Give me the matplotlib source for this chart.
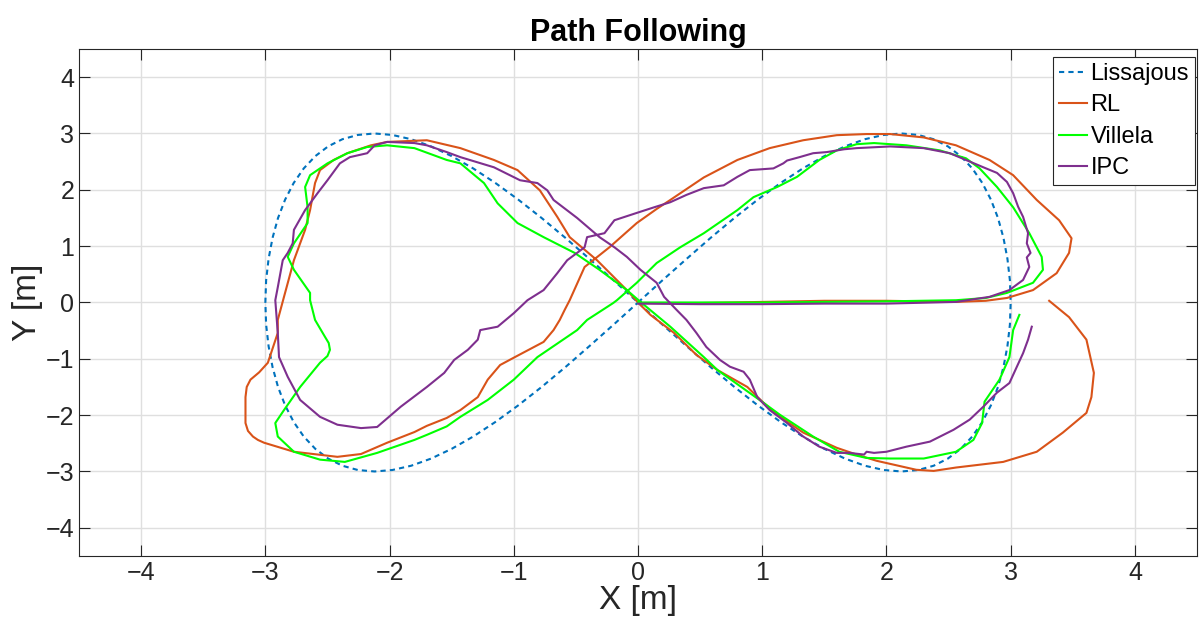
import matplotlib
matplotlib.use("Agg")
import matplotlib.pyplot as plt

plt.rcParams['font.family'] = ['Liberation Sans', 'DejaVu Sans']

title = "Path Following"
xlabel = "X [m]"
ylabel = "Y [m]"
labels = ["Lissajous", "RL", "Villela", "IPC"]
xticks = [-4, -3, -2, -1, 0, 1, 2, 3, 4]
yticks = [-4, -3, -2, -1, 0, 1, 2, 3, 4]

# Reference Lissajous path
liss_x = [0.000, 0.196, 0.392, 0.585, 0.776, 0.964, 1.148, 1.327, 1.500, 1.667, 1.826, 1.978,
          2.121, 2.256, 2.380, 2.494, 2.598, 2.691, 2.772, 2.841, 2.898, 2.942, 2.974, 2.994,
          3.000, 2.994, 2.974, 2.942, 2.898, 2.841, 2.772, 2.691, 2.598, 2.494, 2.380, 2.256,
          2.121, 1.978, 1.826, 1.667, 1.500, 1.327, 1.148, 0.964, 0.776, 0.585, 0.392, 0.196,
          0.000, -0.196, -0.392, -0.585, -0.776, -0.964, -1.148, -1.327, -1.500, -1.667, -1.826, -1.978,
          -2.121, -2.256, -2.380, -2.494, -2.598, -2.691, -2.772, -2.841, -2.898, -2.942, -2.974, -2.994,
          -3.000, -2.994, -2.974, -2.942, -2.898, -2.841, -2.772, -2.691, -2.598, -2.494, -2.380, -2.256,
          -2.121, -1.978, -1.826, -1.667, -1.500, -1.327, -1.148, -0.964, -0.776, -0.585, -0.392, -0.196,
          0.000]
liss_y = [0.000, 0.392, 0.776, 1.148, 1.500, 1.826, 2.121, 2.380, 2.598, 2.772, 2.898, 2.974,
          3.000, 2.974, 2.898, 2.772, 2.598, 2.380, 2.121, 1.826, 1.500, 1.148, 0.776, 0.392,
          0.000, -0.392, -0.776, -1.148, -1.500, -1.826, -2.121, -2.380, -2.598, -2.772, -2.898, -2.974,
          -3.000, -2.974, -2.898, -2.772, -2.598, -2.380, -2.121, -1.826, -1.500, -1.148, -0.776, -0.392,
          0.000, 0.392, 0.776, 1.148, 1.500, 1.826, 2.121, 2.380, 2.598, 2.772, 2.898, 2.974,
          3.000, 2.974, 2.898, 2.772, 2.598, 2.380, 2.121, 1.826, 1.500, 1.148, 0.776, 0.392,
          0.000, -0.392, -0.776, -1.148, -1.500, -1.826, -2.121, -2.380, -2.598, -2.772, -2.898, -2.974,
          -3.000, -2.974, -2.898, -2.772, -2.598, -2.380, -2.121, -1.826, -1.500, -1.148, -0.776, -0.392,
          0.000]

# RL trajectory
rl_x = [0.02, 0.50, 1.00, 1.50, 2.00, 2.56, 2.80, 2.97, 3.18, 3.37, 3.47, 3.49, 3.39, 3.21, 3.02, 2.83,
        2.56, 2.30, 2.03, 1.84, 1.60, 1.33, 1.06, 0.80, 0.53, 0.26, 0.15, -0.01, -0.23, -0.43,
        -0.55, -0.59, -0.63, -0.68, -0.76, -1.00, -1.11, -1.21, -1.29, -1.43, -1.54, -1.70, -1.80,
        -2.02, -2.23, -2.42, -2.77, -3.01, -3.06, -3.10, -3.14, -3.16, -3.16, -3.15, -3.12, -3.05, -2.98,
        -2.90, -2.90, -2.85, -2.77, -2.68, -2.64, -2.60, -2.56, -2.45, -2.34, -2.15, -2.02, -1.70,
        -1.43, -1.16, -0.97, -0.79, -0.65, -0.55, -0.33, -0.09, 0.00, 0.10, 0.29, 0.47, 0.64, 0.88,
        1.01, 1.12, 1.33, 1.60, 1.76, 1.92, 2.24, 2.38, 2.56, 2.94, 3.21, 3.42, 3.61, 3.65, 3.67,
        3.61, 3.47, 3.31]
rl_y = [-0.01, -0.01, 0.01, 0.03, 0.03, 0.01, 0.03, 0.08, 0.22, 0.52, 0.88, 1.14, 1.46, 1.82, 2.26, 2.53,
        2.79, 2.93, 2.99, 2.99, 2.97, 2.88, 2.74, 2.53, 2.22, 1.82, 1.66, 1.41, 0.98, 0.63,
        0.04, -0.13, -0.31, -0.49, -0.70, -0.98, -1.11, -1.37, -1.68, -1.91, -2.05, -2.19, -2.30,
        -2.49, -2.69, -2.74, -2.65, -2.49, -2.44, -2.38, -2.28, -2.14, -1.68, -1.50, -1.37, -1.24, -1.07,
        -0.54, -0.31, 0.10, 0.75, 1.29, 1.64, 2.12, 2.35, 2.53, 2.65, 2.79, 2.85, 2.88,
        2.74, 2.53, 2.35, 1.99, 1.52, 1.16, 0.75, 0.22, 0.00, -0.22, -0.54, -0.93, -1.20, -1.50,
        -1.78, -1.99, -2.31, -2.58, -2.70, -2.81, -2.97, -2.99, -2.93, -2.83, -2.65, -2.31, -1.96, -1.68, -1.25,
        -0.66, -0.26, 0.03]

# Villela trajectory
vil_x = [0.00, 0.50, 1.00, 1.50, 2.00, 2.56, 2.80, 2.97, 3.18, 3.26, 3.25, 3.15, 3.02, 2.89, 2.75, 2.64,
         2.43, 2.16, 1.90, 1.76, 1.60, 1.46, 1.28, 1.12, 0.93, 0.80, 0.53, 0.34, 0.15, -0.01,
         -0.17, -0.20, -0.41, -0.49, -0.81, -1.00, -1.21, -1.43, -1.54, -1.70, -1.80, -2.10, -2.36,
         -2.56, -2.77, -2.90, -2.92, -2.85, -2.72, -2.56, -2.50, -2.48, -2.49, -2.52, -2.60, -2.64,
         -2.64, -2.77, -2.82, -2.77, -2.66, -2.66, -2.68, -2.64, -2.50, -2.34, -2.18, -2.02, -1.80,
         -1.54, -1.43, -1.24, -1.13, -0.97, -0.76, -0.51, -0.31, -0.09, 0.02, 0.26, 0.53, 0.64, 1.01,
         1.14, 1.41, 1.62, 1.84, 2.03, 2.30, 2.56, 2.70, 2.77, 2.79, 2.91, 2.99, 3.02, 3.07]
vil_y = [0.00, 0.00, 0.00, 0.01, 0.02, 0.04, 0.08, 0.17, 0.35, 0.58, 0.81, 1.23, 1.69, 2.05, 2.38, 2.56,
         2.70, 2.79, 2.83, 2.81, 2.70, 2.53, 2.23, 2.05, 1.87, 1.64, 1.23, 0.98, 0.70, 0.35,
         0.04, -0.01, -0.31, -0.49, -0.97, -1.37, -1.73, -2.03, -2.20, -2.35, -2.44, -2.67, -2.83,
         -2.79, -2.65, -2.38, -2.14, -1.91, -1.50, -1.07, -0.95, -0.84, -0.72, -0.61, -0.31, 0.04,
         0.17, 0.58, 0.81, 1.05, 1.41, 1.69, 2.05, 2.26, 2.47, 2.65, 2.76, 2.79, 2.74,
         2.53, 2.47, 2.12, 1.76, 1.41, 1.16, 0.88, 0.58, 0.22, 0.01, -0.43, -0.97, -1.20, -1.78,
         -1.99, -2.38, -2.65, -2.76, -2.77, -2.77, -2.65, -2.44, -2.14, -1.76, -1.37, -0.97, -0.49, -0.22]

# IPC trajectory
ipc_x = [0.00, 0.50, 1.00, 1.50, 2.00, 2.56, 2.83, 2.99, 3.10, 3.15, 3.13, 3.16, 3.13, 3.14, 3.10,
         3.06, 3.02, 2.97, 2.89, 2.78, 2.64, 2.51, 2.30, 2.03, 1.76, 1.66, 1.52, 1.41, 1.30, 1.20,
         1.17, 1.09, 0.90, 0.80, 0.69, 0.53, 0.39, 0.26, 0.13, -0.01, -0.19, -0.27, -0.41, -0.43,
         -0.57, -0.65, -0.76, -0.89, -1.00, -1.13, -1.27, -1.29, -1.37, -1.48, -1.56, -1.70, -1.91,
         -2.10, -2.23, -2.42, -2.56, -2.72, -2.82, -2.89, -2.90, -2.92, -2.90, -2.86, -2.82, -2.78,
         -2.77, -2.68, -2.58, -2.50, -2.40, -2.32, -2.18, -2.12, -2.02, -1.80, -1.70, -1.54, -1.43,
         -1.16, -0.95, -0.81, -0.73, -0.68, -0.49, -0.31, -0.19, -0.09, 0.02, 0.15, 0.21, 0.31,
         0.39, 0.47, 0.55, 0.66, 0.74, 0.85, 0.90, 0.96, 1.06, 1.20, 1.33, 1.46, 1.60, 1.70,
         1.82, 1.84, 1.90, 2.00, 2.16, 2.35, 2.54, 2.67, 2.78, 2.89, 2.99, 3.05, 3.10, 3.14, 3.17]
ipc_y = [-0.02, -0.03, -0.03, -0.02, -0.02, 0.01, 0.10, 0.22, 0.40, 0.63, 0.80, 0.88, 1.05, 1.23, 1.52,
         1.70, 1.94, 2.14, 2.30, 2.40, 2.53, 2.65, 2.74, 2.77, 2.74, 2.72, 2.67, 2.65, 2.58, 2.52,
         2.47, 2.38, 2.35, 2.23, 2.08, 2.03, 1.91, 1.78, 1.69, 1.59, 1.46, 1.23, 1.16, 0.98,
         0.75, 0.52, 0.22, 0.04, -0.19, -0.43, -0.49, -0.66, -0.84, -1.02, -1.25, -1.50, -1.85,
         -2.21, -2.23, -2.17, -2.03, -1.73, -1.32, -0.97, -0.54, 0.04, 0.27, 0.75, 0.88, 1.05,
         1.29, 1.64, 1.94, 2.17, 2.47, 2.58, 2.65, 2.79, 2.85, 2.83, 2.79, 2.67, 2.58,
         2.40, 2.17, 2.12, 1.99, 1.82, 1.50, 1.16, 0.98, 0.81, 0.58, 0.35, 0.10, -0.13,
         -0.31, -0.54, -0.79, -1.02, -1.14, -1.23, -1.37, -1.68, -1.91, -2.14, -2.38, -2.56, -2.67, -2.67,
         -2.70, -2.65, -2.67, -2.65, -2.56, -2.47, -2.26, -2.08, -1.85, -1.60, -1.43, -1.14, -0.90, -0.66, -0.43]

colors = ["#0072BD", "#D95319", "#00FF00", "#7E2F8E"]

fig = plt.figure(figsize=(12.03, 6.37), dpi=100)
ax = fig.add_axes([0.0657, 0.1272, 0.9293, 0.7959])

ax.plot(liss_x, liss_y, color=colors[0], lw=1.5, dashes=(2.5, 2.0), label=labels[0])
ax.plot(rl_x, rl_y, color=colors[1], lw=1.5, label=labels[1])
ax.plot(vil_x, vil_y, color=colors[2], lw=1.5, label=labels[2])
ax.plot(ipc_x, ipc_y, color=colors[3], lw=1.5, label=labels[3])

ax.set_xlim(-4.5, 4.5)
ax.set_ylim(-4.5, 4.5)
ax.set_xticks(xticks)
ax.set_yticks(yticks)
ax.set_xticklabels(["\u2212%d" % -t if t < 0 else "%d" % t for t in xticks])
ax.set_yticklabels(["\u2212%d" % -t if t < 0 else "%d" % t for t in yticks])
ax.tick_params(direction='in', length=8, width=0.8, colors='#262626', labelsize=18,
               top=True, right=True, labelcolor='#262626')
ax.grid(True, color='#dfdfdf', lw=1.0)
ax.set_axisbelow(True)
for s in ax.spines.values():
    s.set_color('#262626')
    s.set_linewidth(0.8)

ax.set_title(title, fontsize=22, fontweight='bold', pad=6)
ax.set_xlabel(xlabel, fontsize=24, color='#262626', labelpad=0)
ax.set_ylabel(ylabel, fontsize=24, color='#262626', labelpad=2)

leg = ax.legend(loc='upper right', bbox_to_anchor=(0.9982, 0.984), borderaxespad=0,
                fontsize=17, handlelength=1.2, handletextpad=0.15, labelspacing=0.4,
                borderpad=0.25, fancybox=False, edgecolor='#262626', framealpha=1)
leg.get_frame().set_linewidth(0.8)

fig.savefig("out.png", dpi=100)
